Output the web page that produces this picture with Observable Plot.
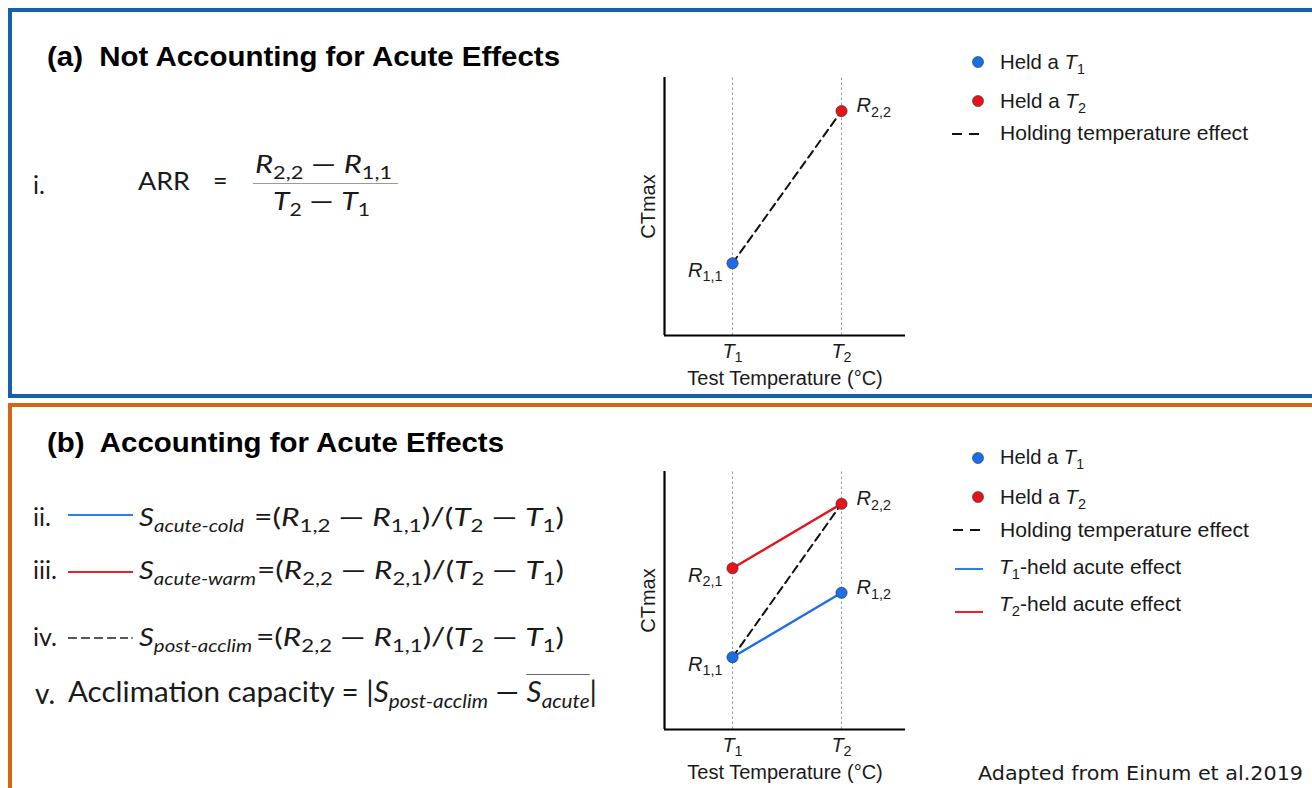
<!DOCTYPE html>
<html><head><meta charset="utf-8">
<script src="https://cdn.jsdelivr.net/npm/d3@7"></script>
<script src="https://cdn.jsdelivr.net/npm/@observablehq/plot@0.6"></script>
<style>
html,body{margin:0;padding:0;background:#fff;}
#page{position:relative;width:1312px;height:788px;overflow:hidden;background:#fff;font-family:"Liberation Sans",Arial,sans-serif;color:#111;}
#pa{position:absolute;left:8px;top:8px;width:1330px;height:390px;box-sizing:border-box;border:4px solid #1561a9;border-right:none;}
#pb{position:absolute;left:8px;top:403px;width:1330px;height:420px;box-sizing:border-box;border:4px solid #d8640f;border-right:none;border-bottom:none;}
.abs{position:absolute;white-space:nowrap;line-height:1;}
.title{font-weight:bold;font-size:28px;color:#000;}
.eq{font-family:Lato,"Open Sans",sans-serif;font-size:25px;color:#1a1a1a;}
.eq sub{font-size:0.7em;vertical-align:-0.32em;line-height:0;}
.eq sub i, .eq i{font-style:italic;}
.big{font-size:28px;}
.leg{font-size:21px;color:#1a1a1a;}
.leg sub{font-size:0.7em;vertical-align:-0.35em;line-height:0;}
.cap{font-family:"DejaVu Sans",Verdana,sans-serif;font-size:20px;color:#1a1a1a;}
.ovl{display:inline-block;border-top:1.5px solid #666;line-height:1;padding-top:2px;}
.chart{position:absolute;}
#sw{position:absolute;left:0;top:0;pointer-events:none;}
</style></head>
<body>
<div id="page">
  <div id="pa"></div>
  <div id="pb"></div>

  <div class="abs title" style="left:47px;top:43px" data-w="513">(a)&nbsp; Not Accounting for Acute Effects</div>
  <div class="abs title" style="left:47px;top:429px" data-w="457">(b)&nbsp; Accounting for Acute Effects</div>

  <!-- panel a equation -->
  <div class="abs eq" style="left:33px;top:172px">i.</div>
  <div class="abs eq" style="left:138px;top:168px" data-w="52">ARR</div>
  <div class="abs eq" style="left:213px;top:168px">=</div>
  <div class="abs eq" style="left:255px;top:151px" data-w="137"><i>R</i><sub>2,2</sub> &#8212; <i>R</i><sub>1,1</sub></div>
  <div class="abs" style="left:253px;top:183px;width:145px;height:1px;background:#9a9a9a"></div>
  <div class="abs eq" style="left:273px;top:188px" data-w="97"><i>T</i><sub>2</sub> &#8212; <i>T</i><sub>1</sub></div>

  <!-- panel b equations -->
  <div class="abs eq" style="left:33px;top:504px">ii.</div>
  <div class="abs eq" style="left:139px;top:504px" data-w="105"><i>S</i><sub><i>acute-cold</i></sub></div>
  <div class="abs eq" style="left:254px;top:504px" data-w="310">=(<i>R</i><sub>1,2</sub> &#8212; <i>R</i><sub>1,1</sub>)/(<i>T</i><sub>2</sub> &#8212; <i>T</i><sub>1</sub>)</div>

  <div class="abs eq" style="left:33px;top:557px">iii.</div>
  <div class="abs eq" style="left:139px;top:557px" data-w="117"><i>S</i><sub><i>acute-warm</i></sub></div>
  <div class="abs eq" style="left:257px;top:557px" data-w="307">=(<i>R</i><sub>2,2</sub> &#8212; <i>R</i><sub>2,1</sub>)/(<i>T</i><sub>2</sub> &#8212; <i>T</i><sub>1</sub>)</div>

  <div class="abs eq" style="left:33px;top:624px">iv.</div>
  <div class="abs eq" style="left:139px;top:624px" data-w="113"><i>S</i><sub><i>post-acclim</i></sub></div>
  <div class="abs eq" style="left:256px;top:624px" data-w="308">=(<i>R</i><sub>2,2</sub> &#8212; <i>R</i><sub>1,1</sub>)/(<i>T</i><sub>2</sub> &#8212; <i>T</i><sub>1</sub>)</div>

  <div class="abs eq big" style="left:35px;top:679px">v.</div>
  <div class="abs eq big" style="left:68px;top:674px" data-w="529">Acclimation capacity = |<i>S</i><sub><i>post-acclim</i></sub> &#8212; <span class="ovl"><i>S</i><sub><i>acute</i></sub></span>|</div>

  <!-- legends -->
  <div class="abs leg" style="left:1000px;top:51px" data-w="85">Held a <i>T</i><sub>1</sub></div>
  <div class="abs leg" style="left:1000px;top:90px" data-w="86">Held a <i>T</i><sub>2</sub></div>
  <div class="abs leg" style="left:1000px;top:122px" data-w="248">Holding temperature effect</div>

  <div class="abs leg" style="left:1000px;top:446px" data-w="84">Held a <i>T</i><sub>1</sub></div>
  <div class="abs leg" style="left:1000px;top:486px" data-w="86">Held a <i>T</i><sub>2</sub></div>
  <div class="abs leg" style="left:1000px;top:519px" data-w="249">Holding temperature effect</div>
  <div class="abs leg" style="left:999px;top:556px" data-w="182"><i>T</i><sub>1</sub>-held acute effect</div>
  <div class="abs leg" style="left:999px;top:593px" data-w="182"><i>T</i><sub>2</sub>-held acute effect</div>

  <div class="abs cap" style="left:978px;top:763px" data-w="325">Adapted from Einum et al.2019</div>

  <svg id="sw" width="1312" height="788">
    <line x1="68" x2="133" y1="515" y2="515" stroke="#2b7fec" stroke-width="2"/>
    <line x1="68" x2="133" y1="572" y2="572" stroke="#ec2127" stroke-width="2"/>
    <line x1="68" x2="128" y1="638" y2="638" stroke="#222" stroke-width="1.6" stroke-dasharray="9,4"/>
    <circle cx="132" cy="638" r="0.9" fill="#555"/>
    <circle cx="978" cy="62" r="5.5" fill="#1b6ee8" stroke="#234" stroke-width="0.6"/>
    <circle cx="978" cy="101" r="5.5" fill="#e8121b" stroke="#422" stroke-width="0.6"/>
    <line x1="952" x2="980" y1="134" y2="134" stroke="#111" stroke-width="2" stroke-dasharray="10,7"/>
    <circle cx="978" cy="458" r="5.5" fill="#1b6ee8" stroke="#234" stroke-width="0.6"/>
    <circle cx="978" cy="497" r="5.5" fill="#e8121b" stroke="#422" stroke-width="0.6"/>
    <line x1="953" x2="981" y1="530" y2="530" stroke="#111" stroke-width="2" stroke-dasharray="10,7"/>
    <line x1="955" x2="983" y1="569" y2="569" stroke="#2b7fec" stroke-width="2"/>
    <line x1="955" x2="983" y1="612" y2="612" stroke="#ec2127" stroke-width="2"/>
  </svg>

  <div id="chartA" class="chart" style="left:620px;top:57px"></div>
  <div id="chartB" class="chart" style="left:620px;top:451px"></div>
</div>

<script>
// ---- data ----
const testTempX = [1, 2];
const testTempLabels = ["T1", "T2"];
const heldGroups = ["T1", "T2"];
const heldColors = ["#1b6ee8", "#e8121b"];

// panel (a): not accounting for acute effects
const aNames = ["R1,1", "R2,2"];
const aTest = [1, 2];
const aHeld = ["T1", "T2"];
const aCTmax = [2.8, 8.7];

// panel (b): accounting for acute effects
const bNames = ["R1,1", "R1,2", "R2,1", "R2,2"];
const bTest = [1, 2, 1, 2];
const bHeld = ["T1", "T1", "T2", "T2"];
const bCTmax = [2.8, 5.3, 6.25, 8.75];

const xDomain = [0.376, 2.587];
const yDomain = [0, 10];

function rows(names, test, held, ct) {
  return names.map((n, i) => ({name: n, test: test[i], held: held[i], ctmax: ct[i]}));
}
const isHolding = d => testTempLabels[testTempX.indexOf(d.test)] === d.held;

function chart(points, withAcute) {
  const marks = [
    Plot.ruleX(testTempX, {y1: yDomain[0], y2: yDomain[1] + 0.08, stroke: "#9c9c9c", strokeWidth: 1, strokeDasharray: "2.5,2.5"}),
    Plot.ruleY([yDomain[0]], {stroke: "#000", strokeWidth: 2.2}),
    Plot.ruleX([xDomain[0]], {stroke: "#000", strokeWidth: 2.2})
  ];
  if (withAcute) marks.push(Plot.line(points, {x: "test", y: "ctmax", z: "held", stroke: "held", strokeWidth: 2.4}));
  marks.push(Plot.line(points.filter(isHolding), {x: "test", y: "ctmax", stroke: "#111", strokeWidth: 2, strokeDasharray: "8,5"}));
  marks.push(Plot.dot(points, {x: "test", y: "ctmax", fill: "held", r: 5.6, stroke: "#333", strokeWidth: 0.7}));
  marks.push(Plot.text(points.filter(d => d.test === testTempX[0]), {x: "test", y: "ctmax", text: "name", textAnchor: "end", dx: -10, dy: 7, fontSize: 20}));
  marks.push(Plot.text(points.filter(d => d.test === testTempX[1]), {x: "test", y: "ctmax", text: "name", textAnchor: "start", dx: 15, dy: -5, fontSize: 20}));
  return Plot.plot({
    width: 300, height: 340,
    marginLeft: 44, marginRight: 15, marginTop: 20, marginBottom: 62,
    style: {fontFamily: "Liberation Sans, Arial, sans-serif", fontSize: "20px", background: "transparent", color: "#1a1a1a", overflow: "visible"},
    x: {domain: xDomain, ticks: testTempX, tickFormat: d => testTempLabels[testTempX.indexOf(d)], tickSize: 0, tickPadding: 8,
        label: "Test Temperature (°C)", labelAnchor: "center", labelOffset: 49, labelArrow: "none"},
    y: {domain: yDomain, ticks: [], tickSize: 0, label: "CTmax", labelAnchor: "center", labelOffset: 24, labelArrow: "none"},
    color: {domain: heldGroups, range: heldColors},
    marks
  });
}

const NS = "http://www.w3.org/2000/svg";
function subscriptify(svg) {
  svg.querySelectorAll("text").forEach(t => {
    const m = t.textContent.match(/^([RT])(\d(?:,\d)?)$/);
    if (!m || t.children.length) return;
    t.textContent = "";
    const a = document.createElementNS(NS, "tspan");
    a.setAttribute("font-style", "italic");
    a.textContent = m[1];
    const b = document.createElementNS(NS, "tspan");
    b.setAttribute("dy", "0.32em");
    b.setAttribute("font-size", "0.72em");
    b.textContent = m[2];
    t.append(a, b);
  });
}

const svgA = chart(rows(aNames, aTest, aHeld, aCTmax), false);
const svgB = chart(rows(bNames, bTest, bHeld, bCTmax), true);
subscriptify(svgA); subscriptify(svgB);
document.getElementById("chartA").append(svgA);
document.getElementById("chartB").append(svgB);

function fit() {
  document.querySelectorAll("[data-w]").forEach(el => {
    el.style.transform = "none";
    const w = el.getBoundingClientRect().width;
    el.style.transformOrigin = "0 50%";
    el.style.transform = `scaleX(${(+el.dataset.w / w).toFixed(4)})`;
  });
}
fit();
if (document.fonts && document.fonts.ready) document.fonts.ready.then(fit);
</script>
</body></html>
